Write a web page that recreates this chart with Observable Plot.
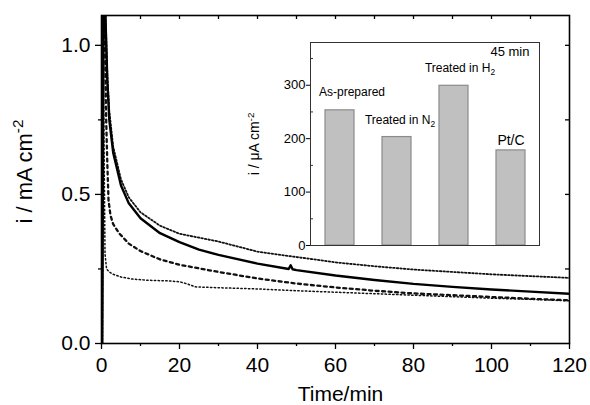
<!DOCTYPE html>
<html>
<head>
<meta charset="utf-8">
<script src="https://cdn.jsdelivr.net/npm/d3@7"></script>
<script src="https://cdn.jsdelivr.net/npm/@observablehq/plot@0.6"></script>
<style>
  html, body { margin: 0; padding: 0; background: white; }
  #chart { position: relative; width: 590px; height: 405px; }
  #chart svg { display: block; }
  #chart svg.inset { position: absolute; left: 240px; top: 30px; }
</style>
</head>
<body>
<div id="chart"></div>
<script>
// ---- Main chart data: current density (mA cm^-2) vs time (min) ----
const tSolid = [0.2, 0.6, 1.0, 1.5, 2, 3, 5, 7, 10, 15, 20, 25, 30, 40, 48, 48.5, 49, 50, 60, 70, 80, 90, 100, 110, 120];
const vSolid = [0, 1.4, 1.1, 0.88, 0.75, 0.64, 0.53, 0.47, 0.42, 0.37, 0.34, 0.315, 0.297, 0.268, 0.25, 0.262, 0.249, 0.246, 0.228, 0.213, 0.2, 0.19, 0.181, 0.174, 0.167];

const tUpper = [0.2, 0.6, 1.05, 1.5, 2, 3, 5, 7, 10, 15, 20, 30, 40, 50, 60, 70, 80, 90, 100, 110, 120];
const vUpper = [0, 1.4, 1.1, 0.9, 0.78, 0.66, 0.55, 0.49, 0.44, 0.395, 0.368, 0.342, 0.308, 0.29, 0.272, 0.259, 0.248, 0.24, 0.232, 0.226, 0.22];

const tDashed = [0.1, 0.4, 0.8, 1.2, 1.5, 1.8, 2.3, 3, 4.5, 7, 10, 15, 20, 30, 40, 50, 60, 70, 80, 90, 100, 110, 120];
const vDashed = [0, 1.4, 1.1, 0.75, 0.6, 0.48, 0.43, 0.4, 0.37, 0.335, 0.31, 0.282, 0.264, 0.24, 0.218, 0.201, 0.188, 0.177, 0.168, 0.162, 0.156, 0.15, 0.145];

const tLower = [0.1, 0.3, 0.9, 1.3, 2, 3, 5, 8, 12, 17, 20, 22, 24, 30, 40, 50, 60, 70, 80, 90, 100, 110, 120];
const vLower = [0, 1.2, 0.3, 0.25, 0.24, 0.232, 0.223, 0.216, 0.212, 0.21, 0.207, 0.2, 0.19, 0.187, 0.183, 0.177, 0.172, 0.167, 0.162, 0.157, 0.152, 0.148, 0.143];

const xMajor = [0, 20, 40, 60, 80, 100, 120];
const xMinor = [10, 30, 50, 70, 90, 110];
const yMajor = [0, 0.5, 1.0];
const yMinor = [0.25, 0.75];
const xTop = [10, 20, 30, 40, 50, 60, 70, 80, 90, 100, 110];
const yRight = [0.25, 0.5, 0.75, 1.0];

// ---- Inset data: current density at 45 min (µA cm^-2) ----
const samples = ["As-prepared", "Treated in N_2", "Treated in H_2", "Pt/C"];
const values45 = [253, 203, 299, 178];
const insetMajor = [0, 100, 200, 300];
const insetMinor = [50, 150, 250, 350];

const zipTV = (t, v) => t.map((d, i) => ({t: d, v: v[i]}));
const solid = zipTV(tSolid, vSolid);
const upper = zipTV(tUpper, vUpper);
const dashed = zipTV(tDashed, vDashed);
const lower = zipTV(tLower, vLower);
const bars = samples.map((s, i) => ({name: s, value: values45[i]}));

const font = "'Liberation Sans', Arial, Helvetica, sans-serif";

const W = 590, H = 405, mL = 101, mR = 21, mT = 15, mB = 62;
const innerW = W - mL - mR, innerH = H - mT - mB;

const main = Plot.plot({
  width: W, height: H,
  marginLeft: mL, marginRight: mR, marginTop: mT, marginBottom: mB,
  x: {domain: [0, 120]},
  y: {domain: [0, 1.1]},
  style: {fontFamily: font, background: "white", color: "black"},
  marks: [
    Plot.line(lower, {x: "t", y: "v", stroke: "#111", strokeWidth: 1.5, strokeDasharray: "1.4,2.4", clip: true}),
    Plot.line(dashed, {x: "t", y: "v", stroke: "#111", strokeWidth: 2.3, strokeDasharray: "3,3.5", clip: true}),
    Plot.line(upper, {x: "t", y: "v", stroke: "#111", strokeWidth: 1.8, strokeDasharray: "1.6,2", clip: true}),
    Plot.line(solid, {x: "t", y: "v", stroke: "#000", strokeWidth: 2.4, clip: true}),
    Plot.frame({stroke: "black", strokeWidth: 1.6}),
    Plot.axisX(xMajor, {tickSize: 6, tickPadding: 8, fontSize: 21, label: null, strokeWidth: 1.3}),
    Plot.axisX(xMinor, {tickSize: 3, tickFormat: () => "", label: null, strokeWidth: 1.3}),
    Plot.axisY(yMajor, {tickSize: 6, tickPadding: 5, fontSize: 21, tickFormat: d3.format(".1f"), label: null, strokeWidth: 1.3}),
    Plot.axisY(yMinor, {tickSize: 3, tickFormat: () => "", label: null, strokeWidth: 1.3}),
    Plot.ruleX(xTop, {x: d => d, insetBottom: innerH - 4, stroke: "black", strokeWidth: 1.3}),
    Plot.ruleY(yRight, {y: d => d, insetLeft: innerW - 4, stroke: "black", strokeWidth: 1.3}),
    Plot.text(["Time/min"], {frameAnchor: "bottom", lineAnchor: "bottom", dy: 57, dx: 5, fontSize: 21, fill: "black"}),
    Plot.text(["i / mA cm^-2"], {frameAnchor: "left", textAnchor: "middle", rotate: -90, dx: -77, dy: -8, fontSize: 22, fill: "black"})
  ]
});

const iW = 310, iH = 225, iL = 70, iR = 11, iT = 12, iB = 10;
const iInnerW = iW - iL - iR;

const labelOpts = {x: "name", y: "value", lineAnchor: "bottom", fontSize: 12, fill: "black"};
const inset = Plot.plot({
  width: iW, height: iH,
  marginLeft: iL, marginRight: iR, marginTop: iT, marginBottom: iB,
  x: {domain: samples, paddingInner: 0.5, paddingOuter: 0.25, axis: null},
  y: {domain: [0, 380]},
  style: {fontFamily: font, background: "transparent", color: "black"},
  marks: [
    Plot.frame({fill: "white"}),
    Plot.barY(bars, {x: "name", y: "value", fill: "#c0c0c0", stroke: "#8a8a8a", strokeWidth: 1.2}),
    Plot.frame({stroke: "#333", strokeWidth: 1}),
    Plot.axisY(insetMajor, {tickSize: 4, tickPadding: 1, fontSize: 13, label: null}),
    Plot.ruleY(insetMinor, {y: d => d, insetRight: iInnerW - 3, stroke: "#333"}),
    Plot.text(bars.filter(d => d.name === samples[0]), {...labelOpts, text: "name", dx: 12, dy: -14}),
    Plot.text(bars.filter(d => d.name === samples[1]), {...labelOpts, text: "name", dx: 3, dy: -13}),
    Plot.text(bars.filter(d => d.name === samples[2]), {...labelOpts, text: "name", dx: 6, dy: -14}),
    Plot.text(bars.filter(d => d.name === samples[3]), {...labelOpts, text: "name", dx: 0, dy: -5, fontSize: 14}),
    Plot.text(["45 min"], {frameAnchor: "top-right", dx: -10, dy: 4, fontSize: 13, fill: "black"}),
    Plot.text(["i / \u03bcA cm^-2"], {frameAnchor: "left", textAnchor: "middle", rotate: -90, dx: -56, dy: 0, fontSize: 14, fill: "black"})
  ]
});
inset.classList.add("inset");

// Turn "^x" into a superscript and "_x" into a subscript tspan.
function richText(svg) {
  d3.select(svg).selectAll("text").each(function () {
    if (this.children.length) return;
    const s = this.textContent;
    const m = s.match(/^(.*?)([\^_])(.+)$/);
    if (!m) return;
    this.textContent = m[1];
    d3.select(this).append("tspan")
      .attr("dy", m[2] === "^" ? "-0.55em" : "0.35em")
      .attr("font-size", "0.7em")
      .text(m[3]);
  });
}
richText(main);
richText(inset);

const chart = document.getElementById("chart");
chart.appendChild(main);
chart.appendChild(inset);
</script>
</body>
</html>
